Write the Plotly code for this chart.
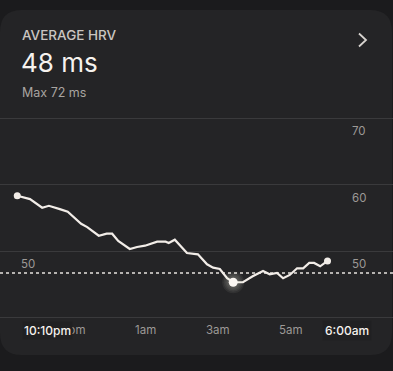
import plotly.graph_objects as go
from datetime import datetime, timedelta

# ---- data ----
times = ["21:30", "21:51", "22:11", "22:22", "22:40", "22:53", "23:15", "23:25", "23:44", "23:57",
         "00:06", "00:16", "00:35", "00:47", "01:00", "01:20", "01:34", "01:39", "01:49", "02:09",
         "02:27", "02:42", "02:52", "03:03", "03:15", "03:25", "03:41", "03:57", "04:14", "04:25",
         "04:37", "04:47", "04:58", "05:10", "05:20", "05:30", "05:38", "05:48", "06:00"]
hrv = [58.3, 57.8, 56.5, 56.8, 56.3, 55.9, 54.1, 53.6, 52.3, 52.6,
       52.6, 51.5, 50.3, 50.6, 50.8, 51.4, 51.4, 51.2, 51.7, 49.7,
       49.5, 48.0, 47.5, 47.3, 45.9, 45.3, 45.3, 46.2, 47.0, 46.5,
       46.7, 45.9, 46.4, 47.4, 47.4, 48.2, 48.2, 47.7, 48.5]
avg_line = 46.7
min_time = "03:25"
min_value = 45.3
y_ticks = [40, 50, 60, 70]
y_tick_labels = ["", "50", "60", "70"]
x_tick_times = ["23:00", "01:00", "03:00", "05:00"]
x_tick_labels = ["11pm", "1am", "3am", "5am"]
start_label = "10:10pm"
end_label = "6:00am"
title = "AVERAGE HRV"
value_text = "48 ms"
max_text = "Max 72 ms"


def to_dt(s):
    h, m = map(int, s.split(":"))
    day = 1 if h >= 12 else 2
    return datetime(2024, 1, day, h, m)


xs = [to_dt(t) for t in times]

W, H = 393, 371
PAGE = "#1b1b1d"
CARD = "#242426"
GRID = "#3a3a3c"
LINE = "#f2ede8"


def px(x):
    return x / W


def py(y):
    return 1 - y / H


# x mapping: 1am at px 145, 36.5 px per hour
base = datetime(2024, 1, 2, 1, 0)
x0 = base + timedelta(minutes=(0 - 145) / 36.5 * 60)
x1 = base + timedelta(minutes=(W - 145) / 36.5 * 60)
# y mapping: 50 at px 251, 6.65 px per unit
y_top = 50 + 251 / 6.65
y_bot = 50 - (H - 251) / 6.65

fig = go.Figure()

fig.add_trace(go.Scatter(x=xs, y=hrv, mode="lines",
                         line=dict(color=LINE, width=2.2), hoverinfo="skip"))
fig.add_trace(go.Scatter(x=[xs[0], xs[-1]], y=[hrv[0], hrv[-1]], mode="markers",
                         marker=dict(color=LINE, size=7, line=dict(width=0)), hoverinfo="skip"))
glow_sizes = [22, 19, 16, 13]
fig.add_trace(go.Scatter(x=[to_dt(min_time)] * len(glow_sizes), y=[min_value] * len(glow_sizes),
                         mode="markers",
                         marker=dict(color="rgba(255,250,245,0.09)", size=glow_sizes,
                                     line=dict(width=0)), hoverinfo="skip"))
fig.add_trace(go.Scatter(x=[to_dt(min_time)], y=[min_value], mode="markers",
                         marker=dict(color="#fbf7f3", size=9, line=dict(width=0)), hoverinfo="skip"))


def rrect(xa, ya, xb, yb, r):
    return (f"M {px(xa + r)} {py(ya)} L {px(xb - r)} {py(ya)} "
            f"Q {px(xb)} {py(ya)} {px(xb)} {py(ya + r)} "
            f"L {px(xb)} {py(yb - r)} Q {px(xb)} {py(yb)} {px(xb - r)} {py(yb)} "
            f"L {px(xa + r)} {py(yb)} Q {px(xa)} {py(yb)} {px(xa)} {py(yb - r)} "
            f"L {px(xa)} {py(ya + r)} Q {px(xa)} {py(ya)} {px(xa + r)} {py(ya)} Z")


shapes = [
    dict(type="path", xref="paper", yref="paper", path=rrect(0, 10, 392, 355, 22),
         fillcolor=CARD, line=dict(width=0), layer="below"),
    dict(type="line", xref="paper", yref="y", x0=0, x1=1, y0=avg_line, y1=avg_line,
         line=dict(color="#e6e2de", width=1.5, dash="3px,3px"), layer="below"),
    dict(type="path", xref="paper", yref="paper",
         path=f"M {px(359)} {py(33.5)} L {px(366)} {py(40)} L {px(359)} {py(46.5)}",
         line=dict(color="#d8d4d0", width=1.8)),
]

FONT = "Inter, Roboto, sans-serif"
ann = []
ann.append(dict(x=px(20), y=py(34.5), xref="paper", yref="paper", text=title,
                showarrow=False, xanchor="left", yanchor="middle",
                font=dict(family=FONT, size=13.5, color="#c9c5c1", weight=500)))
ann.append(dict(x=px(19), y=py(63), xref="paper", yref="paper", text=value_text,
                showarrow=False, xanchor="left", yanchor="middle",
                font=dict(family=FONT, size=26, color="#f6f2ee")))
ann.append(dict(x=px(20), y=py(92.5), xref="paper", yref="paper", text=max_text,
                showarrow=False, xanchor="left", yanchor="middle",
                font=dict(family=FONT, size=12.5, color="#a9a5a1")))

# y labels (right side) and left 50
for v, lab in zip(y_ticks, y_tick_labels):
    if lab:
        ann.append(dict(x=px(359), y=v, xref="paper", yref="y", text=lab, showarrow=False,
                        xanchor="center", yanchor="top", yshift=-4,
                        font=dict(family=FONT, size=11.5, color="#9c9996")))
ann.append(dict(x=px(28), y=50, xref="paper", yref="y", text="50", showarrow=False,
                xanchor="center", yanchor="top", yshift=-4,
                font=dict(family=FONT, size=11.5, color="#9c9996")))

# x tick labels
for t, lab in zip(x_tick_times, x_tick_labels):
    ann.append(dict(x=to_dt(t), y=py(330), xref="x", yref="paper", text=lab, showarrow=False,
                    xanchor="center", yanchor="middle",
                    font=dict(family=FONT, size=11.5, color="#9c9996")))
ann.append(dict(x=px(47.5), y=py(330), xref="paper", yref="paper", text=start_label,
                showarrow=False, xanchor="center", yanchor="middle", bgcolor="#202022",
                borderpad=1,
                font=dict(family=FONT, size=12, color="#f6f2ee", weight=500)))
ann.append(dict(x=px(347), y=py(330), xref="paper", yref="paper", text=end_label,
                showarrow=False, xanchor="center", yanchor="middle", bgcolor="#202022",
                borderpad=2,
                font=dict(family=FONT, size=12, color="#f6f2ee", weight=500)))

fig.update_layout(
    width=W, height=H, margin=dict(l=0, r=0, t=0, b=0),
    paper_bgcolor=PAGE, plot_bgcolor="rgba(0,0,0,0)",
    showlegend=False, shapes=shapes, annotations=ann,
    xaxis=dict(range=[x0, x1], showgrid=False, zeroline=False, showticklabels=False,
               fixedrange=True, showline=False),
    yaxis=dict(range=[y_bot, y_top], tickvals=y_ticks, showgrid=True, gridcolor=GRID,
               gridwidth=1, zeroline=False, showticklabels=False, fixedrange=True),
)

fig.write_html("out.html", config={"displayModeBar": False},
               post_script="document.body.style.margin='0';document.body.style.background='#1b1b1d';")
